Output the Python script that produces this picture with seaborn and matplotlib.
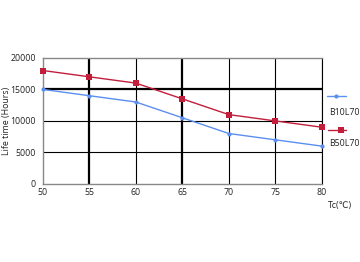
import matplotlib
matplotlib.use("Agg")
import matplotlib.pyplot as plt
import seaborn as sns
import pandas as pd
from matplotlib.lines import Line2D

temps = [50, 55, 60, 65, 70, 75, 80]
b10l70 = [15000, 14000, 13000, 10500, 8000, 7000, 6000]
b50l70 = [18000, 17000, 16000, 13500, 11000, 10000, 9000]
series_names = ["B10L70", "B50L70"]
x_ticks = [50, 55, 60, 65, 70, 75, 80]
y_ticks = [0, 5000, 10000, 15000, 20000]

sns.set_style("white")
plt.rcParams['font.family'] = ['Open Sans', 'DejaVu Sans']

blue = "#5b8ff0"
red = "#c21e3c"

df = pd.DataFrame({"Tc": temps * 2,
                   "Life": b10l70 + b50l70,
                   "Series": [series_names[0]] * len(temps) + [series_names[1]] * len(temps)})

fig = plt.figure(figsize=(3.6, 2.62), dpi=100)
ax = fig.add_axes([0.119, 0.298, 0.775, 0.481])

# grid lines
for x in x_ticks[1:]:
    lw = 1.6 if x in (55, 65) else 0.8
    ax.axvline(x, color="black", lw=lw, zorder=1)
for y in y_ticks[1:-1]:
    lw = 1.6 if y == 15000 else 0.8
    ax.axhline(y, color="black", lw=lw, zorder=1)

sns.lineplot(data=df[df.Series == series_names[0]], x="Tc", y="Life", ax=ax,
             color=blue, lw=1.0, marker="o", markersize=3, markeredgewidth=0, zorder=3,
             clip_on=False)
sns.lineplot(data=df[df.Series == series_names[1]], x="Tc", y="Life", ax=ax,
             color=red, lw=1.0, marker="s", markersize=4.2, markeredgewidth=0, zorder=3,
             clip_on=False)

ax.set_xlim(50, 80)
ax.set_ylim(0, 20000)
ax.set_xticks(x_ticks)
ax.set_yticks(y_ticks)
ax.tick_params(axis="both", labelsize=6.3, length=0, pad=3, colors="#222222")
ax.tick_params(axis="y", length=3, width=0.8, color="#888888", pad=2)
for s in ["left", "top", "bottom"]:
    ax.spines[s].set_color("#888888")
    ax.spines[s].set_linewidth(1.0)
ax.spines["right"].set_color("black")
ax.spines["right"].set_linewidth(0.8)
ax.set_xlabel("")
ax.set_ylabel("Life time (Hours)", fontsize=6.3, color="#222222")
ax.yaxis.set_label_coords(-0.115, 0.5)
fig.text(0.945, 0.215, "Tc(℃)", fontsize=6.3, ha="center", va="center", color="#222222")

# legend (line sample above label)
fig.add_artist(Line2D([0.908, 0.934, 0.961], [0.634, 0.634, 0.634], color=blue, lw=1.0, marker="o",
                      markersize=3, markevery=[1], markeredgewidth=0, transform=fig.transFigure))
fig.text(0.914, 0.569, series_names[0], fontsize=6.3, ha="left", va="center", color="#222222")
fig.add_artist(Line2D([0.911, 0.947, 0.961], [0.504, 0.504, 0.504], color=red, lw=1.0, marker="s",
                      markersize=4.2, markevery=[1], markeredgewidth=0, transform=fig.transFigure))
fig.text(0.914, 0.454, series_names[1], fontsize=6.3, ha="left", va="center", color="#222222")

fig.savefig("out.png", dpi=100)
